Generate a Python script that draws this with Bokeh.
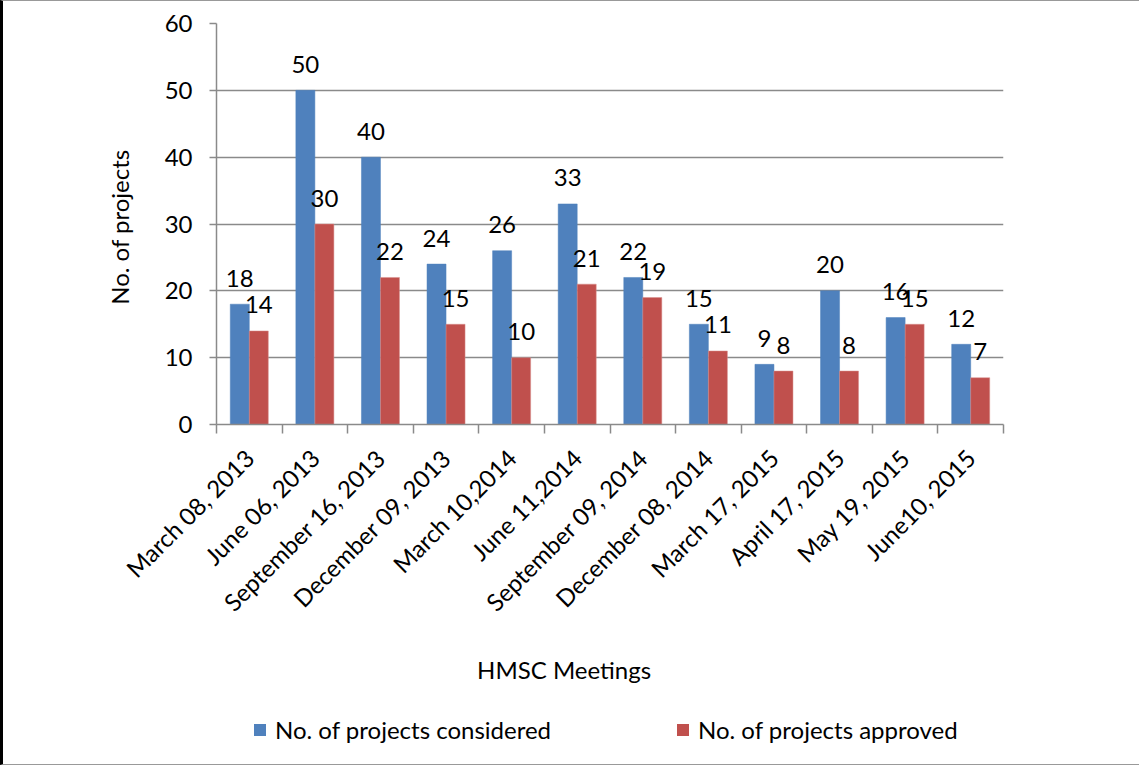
import math
from bokeh.plotting import figure
from bokeh.layouts import column
from bokeh.models import Range1d, FixedTicker, Legend, LegendItem
from bokeh.core.properties import value
from bokeh.embed import file_html
from bokeh.resources import INLINE

meetings = ["March 08, 2013", "June 06, 2013", "September 16, 2013", "December 09, 2013",
            "March 10,2014", "June 11,2014", "September 09, 2014", "December 08, 2014",
            "March 17, 2015", "April 17, 2015", "May 19, 2015", "June10, 2015"]
considered = [18, 50, 40, 24, 26, 33, 22, 15, 9, 20, 16, 12]
approved = [14, 30, 22, 15, 10, 21, 19, 11, 8, 8, 15, 7]
y_ticks = [0, 10, 20, 30, 40, 50, 60]
series_names = ["No. of projects considered", "No. of projects approved"]

FONT = "Lato"
FS = "24px"
BLUE = "#4F81BD"
RED = "#C0504D"
GRID = "#8a8a8a"

n = len(meetings)
centers = [i + 0.5 for i in range(n)]
bounds = [float(i) for i in range(n + 1)]
half = 0.145
bw = 0.29

W = 1139
H1 = 640
H2 = 125

xr = Range1d(0, n)
p = figure(width=W, height=H1, output_backend="svg", toolbar_location=None,
           x_range=xr, y_range=Range1d(y_ticks[0], y_ticks[-1]),
           min_border_left=213, min_border_right=139, min_border_top=22, min_border_bottom=217)
p.outline_line_color = None
p.background_fill_color = "white"
p.border_fill_color = "white"
p.styles = {"border-left": "3px solid black", "border-top": "1px solid #999"}

bx = [c - half for c in centers]
rx = [c + half for c in centers]
p.vbar(x=bx, top=considered, width=bw, fill_color=BLUE, line_color=BLUE, line_width=0.5)
p.vbar(x=rx, top=approved, width=bw, fill_color=RED, line_color="#d9908e", line_width=0.5)

p.text(x=bx, y=considered, text=[str(v) for v in considered], text_align="center",
       text_baseline="middle", y_offset=-26, text_font=value(FONT), text_font_size=FS, text_color="black")
p.text(x=rx, y=approved, text=[str(v) for v in approved], text_align="center",
       text_baseline="middle", y_offset=-26, text_font=value(FONT), text_font_size=FS, text_color="black")

p.xgrid.visible = False
p.ygrid.ticker = FixedTicker(ticks=y_ticks)
p.ygrid.grid_line_color = GRID
p.ygrid.grid_line_width = 1.5

xa = p.xaxis[0]
xa.ticker = FixedTicker(ticks=centers, minor_ticks=bounds)
xa.major_label_overrides = {c: m for c, m in zip(centers, meetings)}
xa.major_label_orientation = math.pi / 4
xa.major_tick_out = 0
xa.major_tick_in = 0
xa.minor_tick_out = 9
xa.minor_tick_in = 0
xa.minor_tick_line_color = GRID
xa.minor_tick_line_width = 1.5
xa.axis_line_color = GRID
xa.axis_line_width = 1.5
xa.major_label_text_font = FONT
xa.major_label_text_font_size = FS
xa.major_label_text_color = "black"
xa.major_label_standoff = 20

ya = p.yaxis[0]
ya.ticker = FixedTicker(ticks=y_ticks)
ya.major_tick_out = 7
ya.major_tick_in = 0
ya.minor_tick_line_color = None
ya.major_tick_line_color = GRID
ya.major_tick_line_width = 1.5
ya.axis_line_color = GRID
ya.axis_line_width = 1.5
ya.major_label_text_font = FONT
ya.major_label_text_font_size = FS
ya.major_label_text_color = "black"
ya.major_label_standoff = 17
ya.axis_label = "No.  of projects"
ya.axis_label_text_font = FONT
ya.axis_label_text_font_size = FS
ya.axis_label_text_font_style = "normal"
ya.axis_label_text_color = "black"
ya.axis_label_standoff = 28

# lower strip: x-axis title and legend (shares the category x range, y in pixels downward)
p2 = figure(width=W, height=H2, output_backend="svg", toolbar_location=None,
            x_range=xr, y_range=Range1d(H2, 0),
            x_axis_location=None, y_axis_location=None,
            min_border=0, min_border_left=213, min_border_right=139, min_border_top=0, min_border_bottom=0)
p2.grid.visible = False
p2.outline_line_color = None
p2.background_fill_color = "white"
p2.border_fill_color = "white"
p2.styles = {"border-left": "3px solid black", "border-bottom": "1px solid #999"}

p2.text(x=[5.3], y=[29], text=["HMSC Meetings"], text_align="center", text_baseline="middle",
        text_font=value(FONT), text_font_size=FS, text_color="black")

# zero-height proxies so the legend has swatches to draw
g1 = p2.vbar(x=[0.5], top=[0], bottom=[0], width=0.01, fill_color=BLUE, line_alpha=0)
g2 = p2.vbar(x=[0.5], top=[0], bottom=[0], width=0.01, fill_color=RED, line_alpha=0)

def mk_legend(label, rend, loc):
    return Legend(items=[LegendItem(label=label, renderers=[rend])], location=loc,
                  padding=0, margin=0, border_line_color=None, background_fill_alpha=0,
                  glyph_width=15, glyph_height=15, label_standoff=8,
                  label_text_font=FONT, label_text_font_size=FS, label_text_color="black")

p2.add_layout(mk_legend(series_names[0], g1, (36, 21)))
p2.add_layout(mk_legend(series_names[1], g2, (459, 21)))

layout = column(p, p2, spacing=0)
open("out.html", "w").write(file_html(layout, INLINE))
